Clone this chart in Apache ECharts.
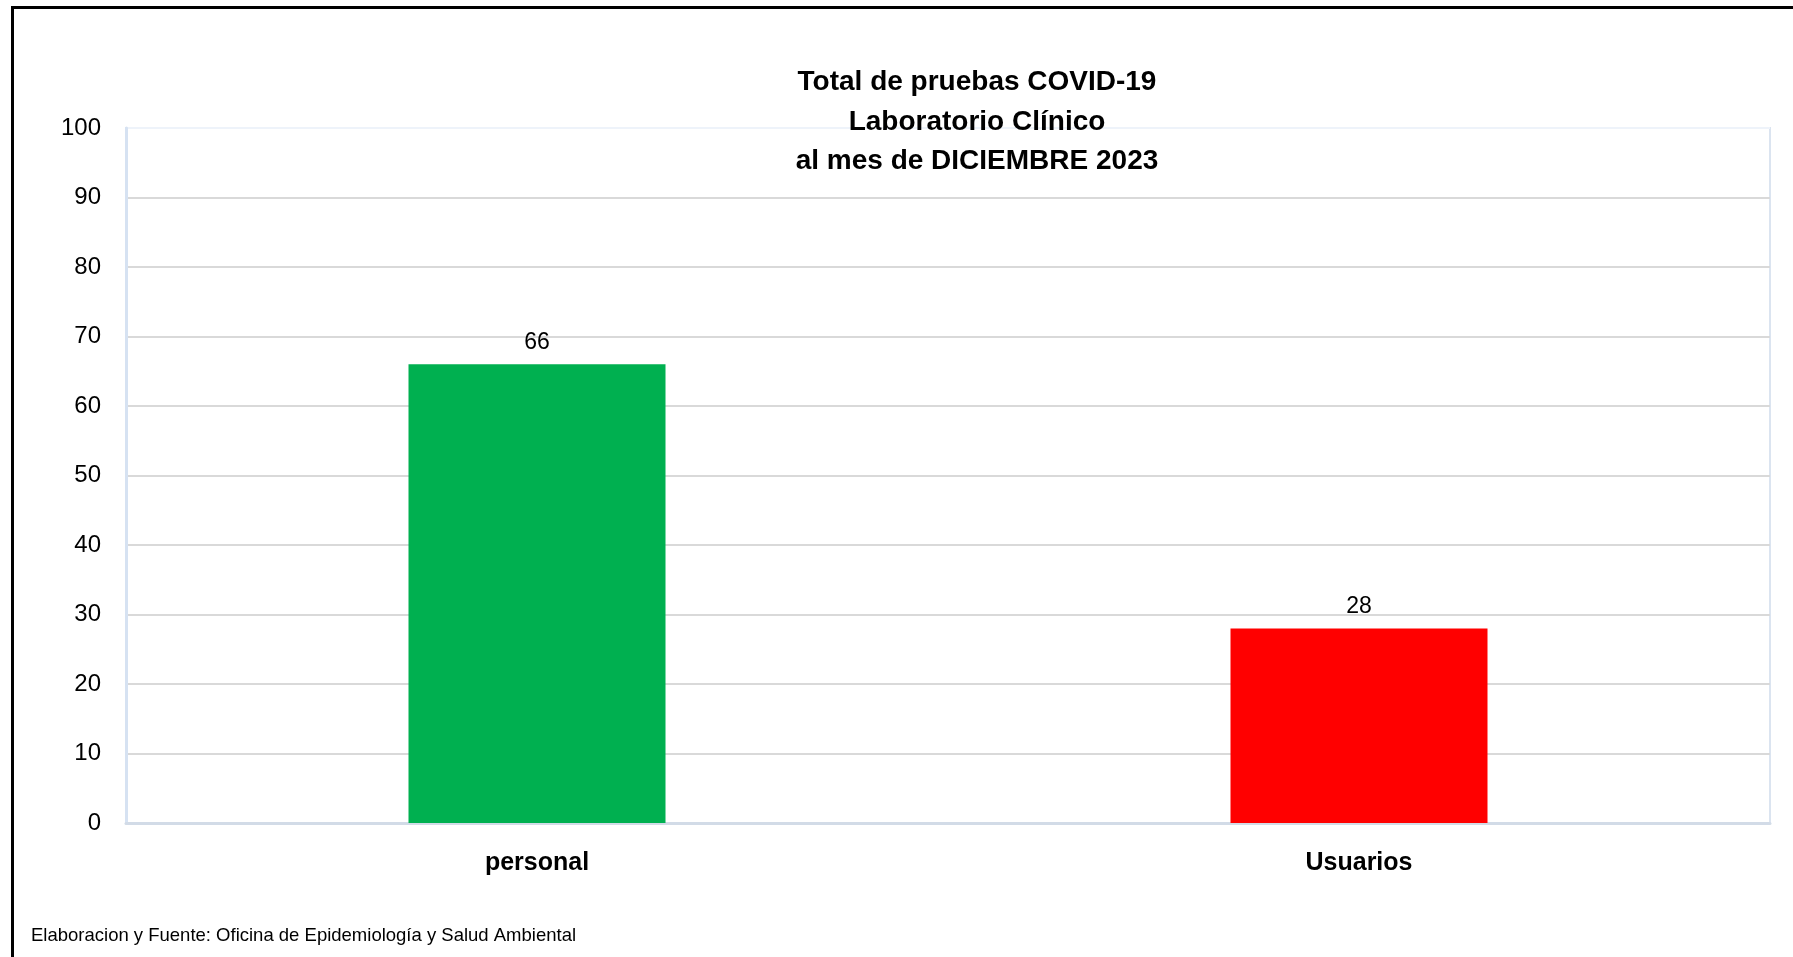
<!DOCTYPE html>
<html>
<head>
<meta charset="utf-8">
<script src="https://cdn.jsdelivr.net/npm/echarts@6/dist/echarts.min.js"></script>
<style>
html,body{margin:0;padding:0;background:#fff;}
#chart{width:1793px;height:957px;}
</style>
</head>
<body>
<div id="chart"></div>
<script>
const categories = ['personal', 'Usuarios'];
const values = [66, 28];
const barColors = ['#00b050', '#ff0000'];
const titleLines = ['Total de pruebas COVID-19', 'Laboratorio Clínico', 'al mes de DICIEMBRE 2023'];
const footerText = 'Elaboracion y Fuente: Oficina de Epidemiología y Salud Ambiental';
const yMin = 0, yMax = 100, yInterval = 10;

const FONT = '"Liberation Sans", Arial, sans-serif';
const chart = echarts.init(document.getElementById('chart'), null, {renderer: 'canvas'});

const splitColors = [];
for (let v = yMin; v <= yMax; v += yInterval) splitColors.push(v === yMax ? '#eef3fa' : '#d9d9d9');

chart.setOption({
  backgroundColor: '#ffffff',
  animation: false,
  title: {
    text: titleLines.join('\n'),
    left: 977,
    textAlign: 'center',
    top: 63,
    padding: 0,
    textStyle: {fontFamily: FONT, fontSize: 28, fontWeight: 'bold', color: '#000', lineHeight: 39.5}
  },
  grid: {
    left: 126, right: 23, top: 128, bottom: 134,
    show: true, borderColor: '#dbe4f0', borderWidth: 2, backgroundColor: '#fff'
  },
  xAxis: {
    type: 'category',
    data: categories,
    axisLine: {show: true, lineStyle: {color: '#d2dbe7', width: 3}},
    axisTick: {show: false},
    axisLabel: {fontFamily: FONT, fontSize: 25, fontWeight: 'bold', color: '#000', margin: 28}
  },
  yAxis: {
    type: 'value',
    min: yMin, max: yMax, interval: yInterval,
    axisLine: {show: true, lineStyle: {color: '#d6e2f2', width: 3}},
    axisTick: {show: false},
    axisLabel: {fontFamily: FONT, fontSize: 24, color: '#000', margin: 25, padding: [4, 0, 0, 0]},
    splitLine: {show: true, lineStyle: {color: splitColors, width: 2}}
  },
  series: [{
    type: 'bar',
    barWidth: 257,
    data: values.map((v, i) => ({value: v, itemStyle: {color: barColors[i]}})),
    label: {show: true, position: 'top', distance: 10, fontFamily: FONT, fontSize: 23, color: '#000'}
  }],
  graphic: [
    {type: 'rect', shape: {x: 12.5, y: 7.5, width: 1900, height: 1100},
     style: {fill: null, stroke: '#000', lineWidth: 3}, silent: true, z: 100},
    {type: 'text', left: 31, top: 926,
     style: {text: footerText, font: '18.5px "Liberation Sans", Arial, sans-serif', fill: '#000'}}
  ]
});
</script>
</body>
</html>
